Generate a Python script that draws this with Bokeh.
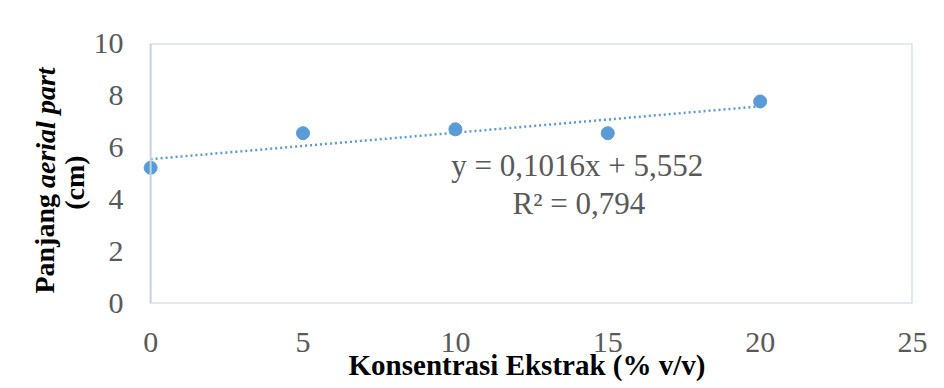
from bokeh.plotting import figure
from bokeh.layouts import row
from bokeh.models import Range1d, Label, BoxAnnotation, FixedTicker
from bokeh.embed import file_html
from bokeh.resources import INLINE
import numpy as np

konsentrasi = [0, 5, 10, 15, 20]
panjang = [5.22, 6.55, 6.7, 6.55, 7.77]
x_ticks = [0, 5, 10, 15, 20, 25]
y_ticks = [0, 2, 4, 6, 8, 10]
slope = 0.1016
intercept = 5.552
eq_text = "y = 0,1016x + 5,552"
r2_text = "R² = 0,794"

SERIF = "Liberation Serif"
BLUE = "#5B9BD5"
GRAY = "#595959"

LEFT_W = 90
H = 388

yr = Range1d(0, 10)

# left strip holding the y-axis title (mixed bold / bold italic)
lab = figure(width=LEFT_W, height=H, output_backend="svg", toolbar_location=None,
             x_range=Range1d(0, LEFT_W), y_range=yr,
             x_axis_location=None, y_axis_location=None,
             min_border_left=0, min_border_right=0, min_border_top=43,
             min_border_bottom=H - 303)
lab.outline_line_color = None
lab.xgrid.visible = False
lab.ygrid.visible = False
lab.add_layout(Label(x=44, y=0.38, text="Panjang", angle=np.pi / 2, text_font=SERIF,
                     text_font_style="bold", text_font_size="28px", text_color="black",
                     text_align="left", text_baseline="middle"))
lab.add_layout(Label(x=45, y=9.08, text="aerial part", angle=np.pi / 2, text_font=SERIF,
                     text_font_style="bold italic", text_font_size="28px", text_color="black",
                     text_align="right", text_baseline="middle"))
lab.add_layout(Label(x=74, y=4.65, text="(cm)", angle=np.pi / 2, text_font=SERIF,
                     text_font_style="bold", text_font_size="28px", text_color="black",
                     text_align="center", text_baseline="middle"))

p = figure(width=940 - LEFT_W, height=H, output_backend="svg", toolbar_location=None,
           x_range=Range1d(-0.3, 25), y_range=yr,
           min_border_left=141 - LEFT_W, min_border_right=28, min_border_top=43,
           min_border_bottom=H - 303)
p.outline_line_color = None
p.xgrid.visible = False
p.ygrid.visible = False

frame = BoxAnnotation(left=0, right=25, bottom=0, top=10, fill_alpha=0,
                      line_color="#c5d3e1", line_alpha=1.0, line_width=2)
p.add_layout(frame)

for ax in (p.xaxis, p.yaxis):
    ax.axis_line_color = None
    ax.major_tick_line_color = None
    ax.minor_tick_line_color = None
    ax.major_label_text_font = SERIF
    ax.major_label_text_font_size = "30px"
    ax.major_label_text_color = GRAY
p.xaxis.ticker = FixedTicker(ticks=x_ticks)
p.yaxis.ticker = FixedTicker(ticks=y_ticks)
p.xaxis.major_label_standoff = 23
p.yaxis.major_label_standoff = 12

p.xaxis.axis_label = "Konsentrasi Ekstrak (% v/v)"
p.xaxis.axis_label_text_font = SERIF
p.xaxis.axis_label_text_font_style = "bold"
p.xaxis.axis_label_text_font_size = "29px"
p.xaxis.axis_label_text_color = "black"
p.xaxis.axis_label_standoff = -6

# trend line
tx = np.array([konsentrasi[0], konsentrasi[-1]], dtype=float)
p.line(tx, slope * tx + intercept, line_color=BLUE, line_width=2.5, line_dash="2 3")
p.scatter(konsentrasi, panjang, size=13, fill_color=BLUE, line_color=BLUE)

p.add_layout(Label(x=14.0, y=5.29, text=eq_text, text_font=SERIF, text_font_size="31px",
                   text_color=GRAY, text_align="center", text_baseline="alphabetic"))
p.add_layout(Label(x=14.05, y=3.85, text=r2_text, text_font=SERIF, text_font_size="31px",
                   text_color=GRAY, text_align="center", text_baseline="alphabetic"))

layout = row(lab, p, spacing=0)
open("out.html", "w").write(file_html(layout, INLINE))
